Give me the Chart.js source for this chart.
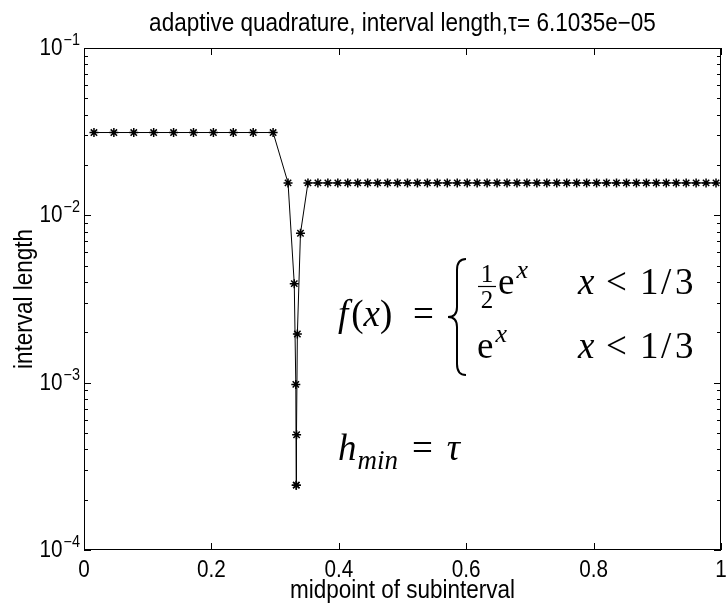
<!DOCTYPE html>
<html>
<head>
<meta charset="utf-8">
<script src="https://cdn.jsdelivr.net/npm/chart.js@4.4.1/dist/chart.umd.min.js"></script>
<style>
  html, body { margin: 0; padding: 0; background: #fff; }
  #c { display: block; }
</style>
</head>
<body>
<canvas id="c" width="727" height="603"></canvas>
<script>
// midpoints of the accepted subintervals and their lengths
const midpoints = [
  0.015625, 0.046875, 0.078125, 0.109375, 0.140625, 0.171875, 0.203125, 0.234375, 0.265625, 0.296875,
  0.3203125, 0.330078125, 0.33251953125, 0.3331298828125, 0.3333740234375, 0.333740234375, 0.3349609375, 0.33984375,
  0.3515625, 0.3671875, 0.3828125, 0.3984375, 0.4140625, 0.4296875, 0.4453125, 0.4609375, 0.4765625, 0.4921875,
  0.5078125, 0.5234375, 0.5390625, 0.5546875, 0.5703125, 0.5859375, 0.6015625, 0.6171875, 0.6328125, 0.6484375,
  0.6640625, 0.6796875, 0.6953125, 0.7109375, 0.7265625, 0.7421875, 0.7578125, 0.7734375, 0.7890625, 0.8046875,
  0.8203125, 0.8359375, 0.8515625, 0.8671875, 0.8828125, 0.8984375, 0.9140625, 0.9296875, 0.9453125, 0.9609375,
  0.9765625, 0.9921875
];
const lengths = [
  0.03125, 0.03125, 0.03125, 0.03125, 0.03125, 0.03125, 0.03125, 0.03125, 0.03125, 0.03125,
  0.015625, 0.00390625, 0.0009765625, 0.000244140625, 0.000244140625, 0.00048828125, 0.001953125, 0.0078125,
  0.015625, 0.015625, 0.015625, 0.015625, 0.015625, 0.015625, 0.015625, 0.015625, 0.015625, 0.015625,
  0.015625, 0.015625, 0.015625, 0.015625, 0.015625, 0.015625, 0.015625, 0.015625, 0.015625, 0.015625,
  0.015625, 0.015625, 0.015625, 0.015625, 0.015625, 0.015625, 0.015625, 0.015625, 0.015625, 0.015625,
  0.015625, 0.015625, 0.015625, 0.015625, 0.015625, 0.015625, 0.015625, 0.015625, 0.015625, 0.015625,
  0.015625, 0.015625
];
const xTicks = [0, 0.2, 0.4, 0.6, 0.8, 1];
const xTickLabels = ['0', '0.2', '0.4', '0.6', '0.8', '1'];
const yExponents = [-4, -3, -2, -1];
const titleText = 'adaptive quadrature, interval length,\u03c4= 6.1035e\u221205';
const xTitle = 'midpoint of subinterval';
const yTitle = 'interval length';

const sans = '"Liberation Sans", Arial, sans-serif';
const serif = '"Liberation Serif", "DejaVu Serif", serif';
const narrow = 0.9; // matlabowy helvetica jest wezszy

// tekst sciesniony w poziomie
function say(ctx, s, x, y, size, align) {
  ctx.save();
  ctx.font = size + 'px ' + sans;
  ctx.textAlign = align;
  ctx.translate(x, y);
  ctx.scale(narrow, 1);
  ctx.fillText(s, 0, 0);
  const w = ctx.measureText(s).width * narrow;
  ctx.restore();
  return w;
}

//ramka, ticki do srodka, etykiety 10^k i wzory
const decor = {
  id: 'decor',
  afterDraw(chart) {
    const ctx = chart.ctx;
    const a = chart.chartArea;
    const xs = chart.scales.x, ys = chart.scales.y;
    ctx.save();
    ctx.strokeStyle = '#000';
    ctx.fillStyle = '#000';
    ctx.lineWidth = 1;
    ctx.strokeRect(a.left + 0.5, a.top + 0.5, a.right - a.left - 1, a.bottom - a.top - 1);

    ctx.beginPath();
    xTicks.forEach(v => {
      const px = Math.round(xs.getPixelForValue(v)) + 0.5;
      ctx.moveTo(px, a.bottom); ctx.lineTo(px, a.bottom - 7);
      ctx.moveTo(px, a.top); ctx.lineTo(px, a.top + 7);
    });
    yExponents.forEach((e, i) => {
      const py = Math.round(ys.getPixelForValue(Math.pow(10, e))) + 0.5;
      ctx.moveTo(a.left, py); ctx.lineTo(a.left + 7, py);
      ctx.moveTo(a.right, py); ctx.lineTo(a.right - 7, py);
      if (i < yExponents.length - 1) {
        for (let m = 2; m <= 9; m++) {
          const pm = Math.round(ys.getPixelForValue(m * Math.pow(10, e))) + 0.5;
          ctx.moveTo(a.left, pm); ctx.lineTo(a.left + 4, pm);
          ctx.moveTo(a.right, pm); ctx.lineTo(a.right - 4, pm);
        }
      }
    });
    ctx.stroke();

    ctx.textBaseline = 'alphabetic';
    // x tick labels
    xTicks.forEach((v, i) => {
      say(ctx, xTickLabels[i], xs.getPixelForValue(v), 577, 23, 'center');
    });
    // y labels 10^k
    yExponents.forEach(e => {
      const py = ys.getPixelForValue(Math.pow(10, e));
      const w = say(ctx, '\u2212' + Math.abs(e), 80, py - 3, 16, 'right');
      say(ctx, '10', 80 - w - 1, py + 7, 23, 'right');
    });

    // title and axis titles
    const cx = (a.left + a.right) / 2;
    say(ctx, titleText, cx, 31, 25, 'center');
    say(ctx, xTitle, cx, 598, 25, 'center');
    ctx.save();
    ctx.translate(32, (a.top + a.bottom) / 2);
    ctx.rotate(-Math.PI / 2);
    say(ctx, yTitle, 0, 0, 25, 'center');
    ctx.restore();

    // f(x) = { ... }
    ctx.textAlign = 'left';
    const it = sz => 'italic ' + sz + 'px ' + serif;
    const rm = sz => sz + 'px ' + serif;
    let x = 338;
    const base = 326;
    const put = (s, f, y) => { ctx.font = f; ctx.fillText(s, x, y); x += ctx.measureText(s).width; };
    put('f', it(37), base); x += 3;
    put('(', rm(37), base);
    put('x', it(37), base);
    put(')', rm(37), base);
    x = 413;
    put('=', rm(37), base);

    // brace
    const bx = 457, top = 259, bot = 375, mid = (top + bot) / 2;
    ctx.lineWidth = 2;
    ctx.beginPath();
    ctx.moveTo(bx + 9, top);
    ctx.quadraticCurveTo(bx, top, bx, top + 11);
    ctx.lineTo(bx, mid - 10);
    ctx.quadraticCurveTo(bx, mid, bx - 9, mid);
    ctx.quadraticCurveTo(bx, mid, bx, mid + 10);
    ctx.lineTo(bx, bot - 11);
    ctx.quadraticCurveTo(bx, bot, bx + 9, bot);
    ctx.stroke();

    const r1 = 294, r2 = 358;
    ctx.textAlign = 'center';
    ctx.font = rm(25);
    ctx.fillText('1', 487, r1 - 12);
    ctx.fillText('2', 487, r1 + 14);
    ctx.lineWidth = 1.2;
    ctx.beginPath();
    ctx.moveTo(478, r1 - 7.5); ctx.lineTo(496, r1 - 7.5);
    ctx.stroke();
    ctx.textAlign = 'left';
    x = 498; put('e', rm(37), r1); x += 2; put('x', it(26), r1 - 16);
    x = 477; put('e', rm(37), r2); x += 2; put('x', it(26), r2 - 16);
    [r1, r2].forEach(r => {
      x = 578; put('x', it(37), r);
      x = 606; put('<', rm(37), r);
      x = 640; put('1', rm(37), r);
      x = 661; put('/', rm(37), r);
      x = 675; put('3', rm(37), r);
    });

    // h_min = tau
    x = 338;
    put('h', it(37), 460);
    x += 1;
    put('min', it(27), 469);
    x += 14;
    put('=', rm(37), 460);
    x += 14;
    put('\u03c4', it(37), 460);
    ctx.restore();
  }
};

const points = midpoints.map((m, i) => ({ x: m, y: lengths[i] }));

new Chart(document.getElementById('c'), {
  type: 'scatter',
  data: {
    datasets: [{
      data: points,
      showLine: true,
      borderColor: '#000',
      borderWidth: 1,
      pointStyle: 'star',
      pointRadius: 4.5,
      pointBorderWidth: 1.5,
      pointBorderColor: '#000',
      pointBackgroundColor: '#000',
      tension: 0
    }]
  },
  plugins: [decor],
  options: {
    responsive: false,
    animation: false,
    events: [],
    layout: { padding: { top: 48, right: 3, left: 0, bottom: 0 } },
    plugins: { legend: { display: false }, tooltip: { enabled: false } },
    scales: {
      x: {
        type: 'linear',
        min: 0,
        max: 1,
        grid: { display: false, drawTicks: false },
        border: { display: false },
        ticks: { display: false, stepSize: 0.2 },
        afterFit: s => { s.height = 53; }
      },
      y: {
        type: 'logarithmic',
        min: 0.0001,
        max: 0.1,
        grid: { display: false, drawTicks: false },
        border: { display: false },
        ticks: { display: false },
        afterFit: s => { s.width = 84; }
      }
    }
  }
});
</script>
</body>
</html>
